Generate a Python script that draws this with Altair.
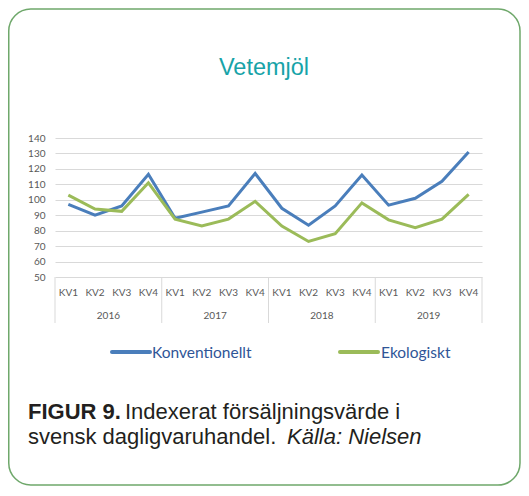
import altair as alt
import pandas as pd

years = ["2016", "2017", "2018", "2019"]
quarters = ["KV1", "KV2", "KV3", "KV4"]
konventionellt = [97, 90, 96, 116.5, 88, 92, 96, 117, 94.5, 83.5, 96, 116, 96.5, 101, 112, 131]
ekologiskt = [103, 94, 92.5, 111, 87.5, 83, 87.5, 99, 83, 73, 78, 98, 87, 82, 87.5, 103.5]
series_names = ["Konventionellt", "Ekologiskt"]
series_colors = ["#4a7ebb", "#9bbb59"]
y_ticks = [50, 60, 70, 80, 90, 100, 110, 120, 130, 140]

keys = [f"{y} {q}" for y in years for q in quarters]
rows = []
for i, k in enumerate(keys):
    rows.append({"key": k, "quarter": k.split(" ")[1], "series": series_names[0], "value": konventionellt[i]})
    rows.append({"key": k, "quarter": k.split(" ")[1], "series": series_names[1], "value": ekologiskt[i]})
df = pd.DataFrame(rows)
qdf = pd.DataFrame({"key": keys, "quarter": [k.split(" ")[1] for k in keys]})
ydf = pd.DataFrame({"key": [f"{y} KV2" for y in years], "year": years})
sepdf = pd.DataFrame({"key": [f"{y} KV1" for y in years]})
enddf = pd.DataFrame({"key": [keys[-1]]})
one = pd.DataFrame({"a": [0]})

W, H = 427, 139
xscale = alt.Scale(type="band", domain=keys, paddingInner=0, paddingOuter=0)
grey = "#d9d9d9"
lab = "#595959"

border = alt.Chart(one).mark_rect(
    filled=False, stroke="#6fa86b", strokeWidth=1.5, cornerRadius=22
).encode(x=alt.value(-46.25), x2=alt.value(465), y=alt.value(-129), y2=alt.value(347))

lines = alt.Chart(df).mark_line(strokeWidth=3).encode(
    x=alt.X("key:N", scale=xscale, bandPosition=0.5, axis=None),
    y=alt.Y("value:Q", scale=alt.Scale(domain=[50, 140], nice=False, zero=False),
            axis=alt.Axis(values=y_ticks, grid=True, gridColor=grey, gridWidth=1,
                          domain=False, ticks=False, labelPadding=10, labelColor=lab,
                          labelFontSize=10, labelFont="Lato", title=None)),
    color=alt.Color("series:N", scale=alt.Scale(domain=series_names, range=series_colors), legend=None),
    detail="series:N",
)

seps = alt.Chart(sepdf).mark_rule(color=grey, strokeWidth=1).encode(
    x=alt.X("key:N", scale=xscale, bandPosition=0, axis=None),
    y=alt.value(H), y2=alt.value(185))
endsep = alt.Chart(enddf).mark_rule(color=grey, strokeWidth=1).encode(
    x=alt.X("key:N", scale=xscale, bandPosition=1, axis=None),
    y=alt.value(H), y2=alt.value(185))

qlabels = alt.Chart(qdf).mark_text(font="Lato", fontSize=10, color=lab, baseline="middle").encode(
    x=alt.X("key:N", scale=xscale, bandPosition=0.5, axis=None),
    y=alt.value(155), text="quarter:N")
ylabels = alt.Chart(ydf).mark_text(font="Lato", fontSize=10, color=lab, baseline="middle").encode(
    x=alt.X("key:N", scale=xscale, bandPosition=1, axis=None),
    y=alt.value(178), text="year:N")

title = alt.Chart(one).mark_text(text="Vetemjöl", font="Liberation Sans", fontSize=23.5,
                                 color="#17a3a8", align="center", baseline="alphabetic").encode(
    x=alt.value(209), y=alt.value(-63))

leg_line1 = alt.Chart(one).mark_rule(color=series_colors[0], strokeWidth=4, strokeCap="round").encode(
    x=alt.value(57), x2=alt.value(95), y=alt.value(214))
leg_line2 = alt.Chart(one).mark_rule(color=series_colors[1], strokeWidth=4, strokeCap="round").encode(
    x=alt.value(285), x2=alt.value(323), y=alt.value(214))
leg_t1 = alt.Chart(one).mark_text(text=series_names[0], font="Lato", fontSize=15.5, color="#2f5597",
                                  align="left", baseline="middle").encode(x=alt.value(97), y=alt.value(215))
leg_t2 = alt.Chart(one).mark_text(text=series_names[1], font="Lato", fontSize=15.5, color="#2f5597",
                                  align="left", baseline="middle").encode(x=alt.value(326), y=alt.value(215))

cap_font = "Liberation Sans"
cap_size = 22
cap_col = "#231f20"
c1 = alt.Chart(one).mark_text(text="FIGUR 9.", font=cap_font, fontSize=cap_size, fontWeight="bold",
                              color=cap_col, align="left", baseline="alphabetic").encode(
    x=alt.value(-27), y=alt.value(281))
c2 = alt.Chart(one).mark_text(text="Indexerat försäljningsvärde i", font=cap_font, fontSize=cap_size,
                              color=cap_col, align="left", baseline="alphabetic").encode(
    x=alt.value(70), y=alt.value(281))
c3 = alt.Chart(one).mark_text(text="svensk dagligvaruhandel.", font=cap_font, fontSize=cap_size,
                              color=cap_col, align="left", baseline="alphabetic").encode(
    x=alt.value(-27), y=alt.value(306))
c4 = alt.Chart(one).mark_text(text="Källa: Nielsen", font=cap_font, fontSize=cap_size, fontStyle="italic",
                              color=cap_col, align="left", baseline="alphabetic").encode(
    x=alt.value(232), y=alt.value(306))

chart = alt.layer(
    border, lines, seps, endsep, qlabels, ylabels, title,
    leg_line1, leg_line2, leg_t1, leg_t2, c1, c2, c3, c4
).properties(
    width=W, height=H,
    autosize=alt.AutoSizeParams(type="none"),
    padding={"left": 47, "top": 130, "right": 39, "bottom": 209},
).configure_view(stroke=None).resolve_scale(x="shared")

chart.save("out.html", embed_options={"renderer": "svg", "actions": False})
